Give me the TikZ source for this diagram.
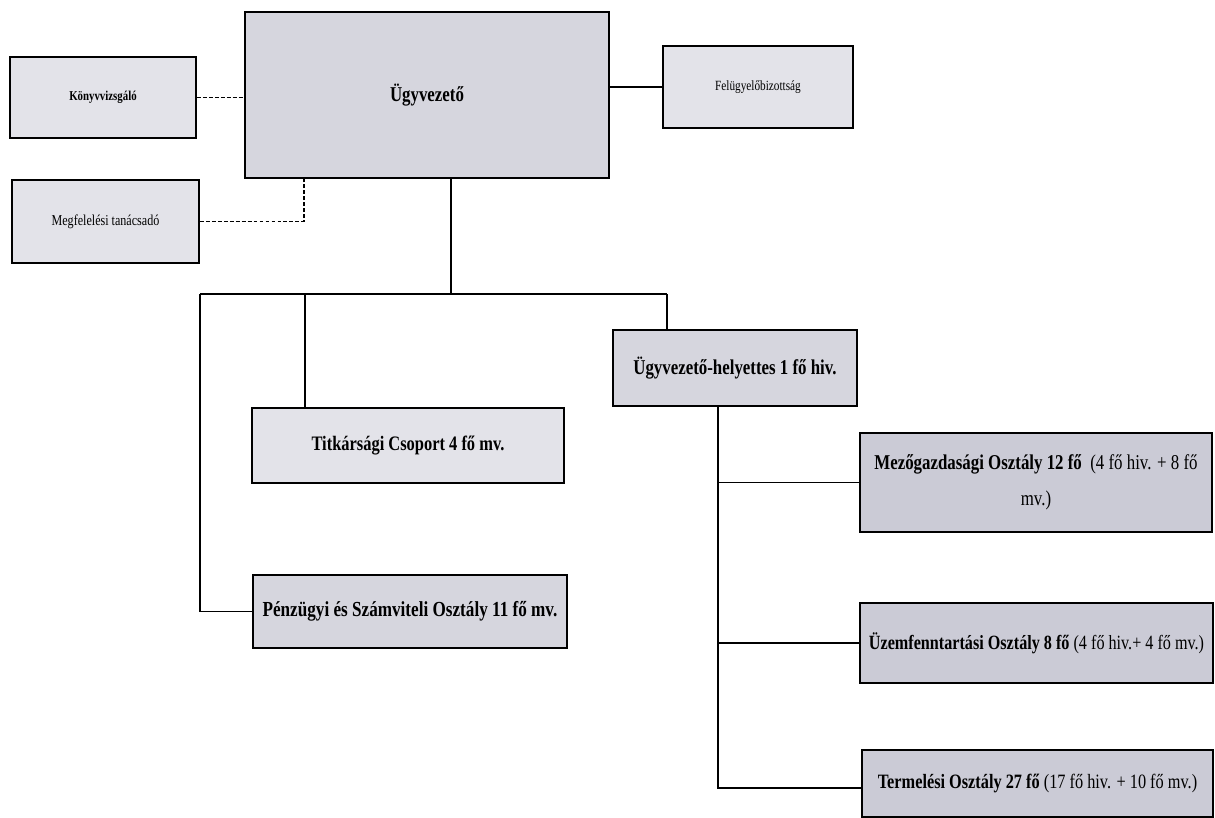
\documentclass[tikz,border=0pt]{standalone}
\usepackage{fontspec}
\setmainfont{Liberation Serif}[FakeStretch=0.8]
\usepackage{tikz}
\usetikzlibrary{calc,backgrounds}
\definecolor{boxlight}{RGB}{227,227,233}
\definecolor{boxmid}{RGB}{214,214,222}
\definecolor{boxdark}{RGB}{203,203,214}
\tikzset{
  orgbox/.style={draw=black,line width=1pt,rectangle,inner sep=2pt,align=center,fill=boxlight},
  orgline/.style={line width=0.9pt,black},
  advline/.style={orgline,dash pattern=on 2.2pt off 1.2pt}
}
\begin{document}
\begin{tikzpicture}[x=0.02cm,y=-0.02cm]
\useasboundingbox (0,0) rectangle (1215,818);
\node[orgbox,minimum width=7.28cm,minimum height=3.32cm,fill=boxmid,font=\bfseries\fontsize{12}{14}\selectfont] (ugyv) at (427,95) {Ügyvezető};
\node[orgbox,minimum width=3.72cm,minimum height=1.62cm,font=\bfseries\fontsize{7.7}{9}\selectfont] (konyv) at (103,97.5) {Könyvvizsgáló};
\node[orgbox,minimum width=3.74cm,minimum height=1.66cm,font=\fontsize{8.6}{10}\selectfont] (megf) at (105.5,221.5) {Megfelelési tanácsadó};
\node[orgbox,minimum width=3.8cm,minimum height=1.64cm,font=\fontsize{8}{10}\selectfont] (felu) at (758,87) {Felügyelőbizottság};
\node[orgbox,minimum width=6.24cm,minimum height=1.5cm,font=\bfseries\fontsize{11.7}{13}\selectfont] (titk) at (408,445.5) {Titkársági Csoport 4 fő mv.};
\node[orgbox,minimum width=6.28cm,minimum height=1.46cm,fill=boxmid,font=\bfseries\fontsize{12.2}{14}\selectfont] (penz) at (410,611.5) {Pénzügyi és Számviteli Osztály 11 fő mv.};
\node[orgbox,minimum width=4.88cm,minimum height=1.52cm,fill=boxmid,font=\bfseries\fontsize{12}{14}\selectfont] (hely) at (735,368) {Ügyvezető-helyettes 1 fő hiv.};
\node[orgbox,minimum width=7.04cm,minimum height=1.98cm,fill=boxdark,font=\fontsize{12}{20.5}\selectfont] (mezo) at (1036,482.5) {\textbf{Mezőgazdasági Osztály 12 fő}\ \ (4 fő hiv. + 8 fő\\ mv.)};
\node[orgbox,minimum width=7.06cm,minimum height=1.6cm,fill=boxdark,font=\fontsize{11.5}{13}\selectfont] (uzem) at (1036.5,643) {\textbf{Üzemfenntartási Osztály 8 fő} (4 fő hiv.+ 4 fő mv.)};
\node[orgbox,minimum width=7.02cm,minimum height=1.34cm,fill=boxdark,font=\fontsize{11.6}{14}\selectfont] (term) at (1037.5,783.5) {\textbf{Termelési Osztály 27 fő} (17 fő hiv. + 10 fő mv.)};
\coordinate (megfup) at (304,178);
\coordinate (busmid) at (451,294);
\coordinate (busleft) at (200,294);
\coordinate (busright) at (667,294);
\coordinate (titkup) at (305,294);
\coordinate (helydown) at (718,406);
\coordinate (helyend) at (718,788);
\draw[advline] (konyv.east) -- (konyv.east -| ugyv.west);
\draw[advline] (megf.east) -| (megfup);
\draw[orgline] (felu.west) -- (felu.west -| ugyv.east);
\draw[orgline] (ugyv.south -| busmid) -- (busmid);
\draw[orgline] (busleft) -- (busright);
\draw[orgline] (busleft) |- (penz.west);
\draw[orgline] (titkup) -- (titk.north -| titkup);
\draw[orgline] (busright) -- (hely.north -| busright);
\draw[orgline] (helydown) -- (helyend) -- (helyend -| term.west);
\draw[orgline] (mezo.west -| helydown) -- (mezo.west);
\draw[orgline] (uzem.west -| helydown) -- (uzem.west);
\end{tikzpicture}
\end{document}
